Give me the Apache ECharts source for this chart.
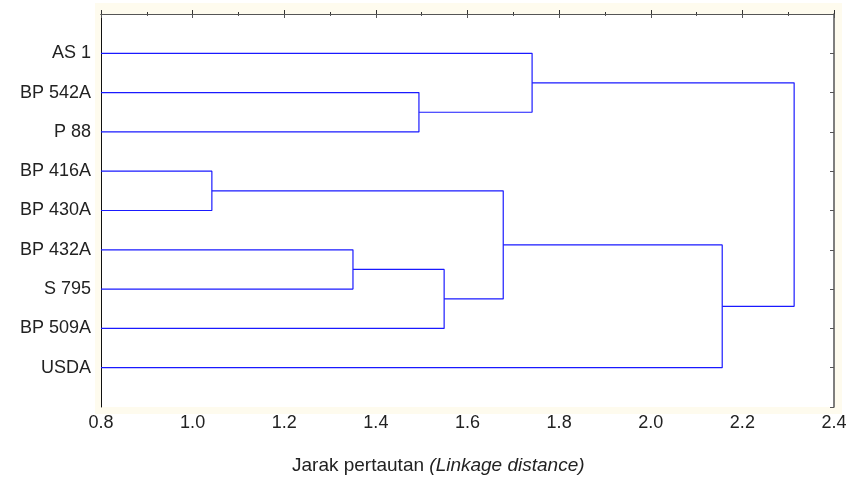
<!DOCTYPE html>
<html><head><meta charset="utf-8">
<script src="https://cdn.jsdelivr.net/npm/echarts@6/dist/echarts.min.js"></script>
<style>html,body{margin:0;padding:0;background:#fff}#c{width:850px;height:479px}</style>
</head><body><div id="c"></div>
<script>
// Leaves (top to bottom)
var categories = ['AS 1','BP 542A','P 88','BP 416A','BP 430A','BP 432A','S 795','BP 509A','USDA'];
// Merges: [childA, childB] (indices: 0..8 leaves, 9.. clusters in order)
var mergeLeft  = [3, 5, 1, 10, 9, 0, 13, 14];
var mergeRight = [4, 6, 2, 7, 12, 11, 8, 15];
var mergeHeight = [1.042, 1.350, 1.494, 1.549, 1.678, 1.741, 2.156, 2.313];
var xTicks = [0.8, 1.0, 1.2, 1.4, 1.6, 1.8, 2.0, 2.2, 2.4];

var xMin = 0.8, xMax = 2.4;
var nodeX = [], nodeY = [];
categories.forEach(function(c, i){ nodeX.push(xMin); nodeY.push(i + 1); });
var series = [];
for (var k = 0; k < mergeHeight.length; k++) {
  var a = mergeLeft[k], b = mergeRight[k], h = mergeHeight[k];
  series.push({
    type: 'line', silent: true, symbol: 'none', animation: false,
    lineStyle: { color: '#1a1aff', width: 1.2 },
    data: [[nodeX[a], nodeY[a]], [h, nodeY[a]], [h, nodeY[b]], [nodeX[b], nodeY[b]]]
  });
  nodeX.push(h);
  nodeY.push((nodeY[a] + nodeY[b]) / 2);
}

var font = 'Liberation Sans, Arial, sans-serif';
var chart = echarts.init(document.getElementById('c'), null, { renderer: 'canvas' });
chart.setOption({
  backgroundColor: '#ffffff',
  animation: false,
  graphic: [
    { type: 'rect', z: -10, silent: true, shape: { x: 95, y: 3, width: 747, height: 411 }, style: { fill: '#fefbee' } },
    { type: 'rect', z: -9, silent: true, shape: { x: 101, y: 14, width: 733, height: 393 }, style: { fill: '#ffffff' } },
    { type: 'text', left: 292, top: 456, silent: true,
      style: { text: '{n|Jarak pertautan }{i|(Linkage distance)}',
        rich: { n: { fontFamily: font, fontSize: 19, fill: '#222' },
                i: { fontFamily: font, fontSize: 19, fontStyle: 'italic', fill: '#222' } } } }
  ],
  grid: { left: 101, right: 16, top: 14, bottom: 72, show: false },
  xAxis: [
    { type: 'value', min: xMin, max: xMax, interval: 0.2, position: 'bottom',
      axisLine: { show: true, lineStyle: { color: '#111', width: 1 } },
      axisTick: { show: true, inside: true, length: 4, lineStyle: { color: '#333' } },
      minorTick: { show: true, splitNumber: 2, length: 2, lineStyle: { color: '#333' } },
      splitLine: { show: false },
      axisLabel: { color: '#222', fontFamily: font, fontSize: 18, margin: 7,
        formatter: function(v){ return v.toFixed(1); }, showMaxLabel: true, showMinLabel: true } },
    { type: 'value', min: xMin, max: xMax, interval: 0.2, position: 'top',
      axisLine: { show: true, lineStyle: { color: '#555', width: 1 } },
      axisTick: { show: true, inside: true, length: 4, lineStyle: { color: '#555' } },
      minorTick: { show: true, splitNumber: 2, length: 2, lineStyle: { color: '#555' } },
      splitLine: { show: false }, axisLabel: { show: false } }
  ],
  yAxis: [
    { type: 'value', min: 0, max: 10, interval: 1, inverse: true, position: 'left',
      axisLine: { show: true, lineStyle: { color: '#111', width: 1 } },
      axisTick: { show: false },
      splitLine: { show: false },
      axisLabel: { color: '#222', fontFamily: font, fontSize: 18, margin: 10,
        formatter: function(v){ return (v >= 1 && v <= categories.length) ? categories[v - 1] : ''; } } },
    { type: 'value', min: 0, max: 10, interval: 1, inverse: true, position: 'right',
      axisLine: { show: true, lineStyle: { color: '#555', width: 1.5 } },
      axisTick: { show: true, inside: true, length: 4, lineStyle: { color: '#555' } },
      splitLine: { show: false }, axisLabel: { show: false } }
  ],
  series: series
});
</script>
</body></html>
